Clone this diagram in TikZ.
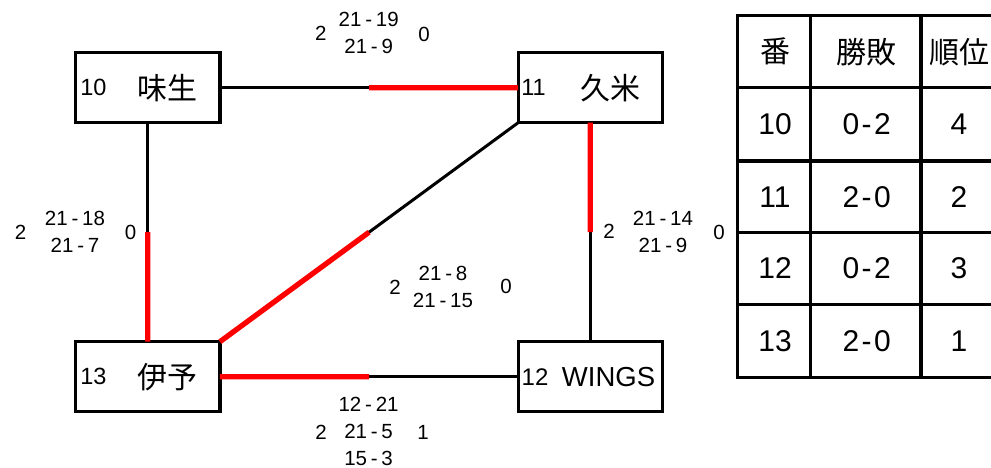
\documentclass[tikz,border=0pt]{standalone}
\usepackage{fontspec}
\setmainfont{Liberation Sans}
\newfontfamily\cjk{Noto Sans CJK JP}
\usetikzlibrary{calc}
\newcommand\scr[2]{#1\kern3.8pt-\kern3.8pt#2}
\newcommand\tsc[2]{#1\kern2.5pt-\kern2.5pt#2}
\begin{document}
\begin{tikzpicture}[x=1pt,y=-1pt,
  team/.style={draw, line width=3.3pt, minimum width=144.3pt, minimum height=70pt, inner sep=0pt, outer sep=0pt},
  conn/.style={line width=3pt},
  win/.style={line width=5.3pt, red},
  num/.style={font=\fontsize{23.5}{23.5}\selectfont, inner sep=0pt},
  nm/.style={font=\fontsize{30}{30}\selectfont\cjk, inner sep=0pt},
  lbl/.style={font=\fontsize{20.5}{27}\selectfont, inner sep=0pt, align=center},
  tline/.style={line width=3.3pt, line cap=rect},
  tcell/.style={font=\fontsize{30}{30}\selectfont, inner sep=0pt},
  thead/.style={font=\fontsize{30}{30}\selectfont\cjk, inner sep=0pt}]
\useasboundingbox (0,0) rectangle (991,468);
\fill[white] (0,0) rectangle (991,468);
% teams
\node[team] (ajio) at (147.8,87.7) {};
\node[team] (kume) at (590.3,87.7) {};
\node[team] (iyo) at (147.8,376.7) {};
\node[team] (wings) at (590.3,376.7) {};
\node[num] (n10) at (93.5,87.7) {10};
\node[nm] (t10) at (167.5,87.7) {味生};
\node[num] (n11) at (533.5,87.7) {11};
\node[nm] (t11) at (610,87.7) {久米};
\node[num] (n13) at (93.5,376.7) {13};
\node[nm] (t13) at (167.5,376.7) {伊予};
\node[num, font=\fontsize{24}{24}\selectfont] (n12) at (535,376.7) {12};
\node[num, font=\fontsize{27.5}{27.5}\selectfont] (t12) at (608.5,376.7) {WINGS};
% connectors
\draw[conn] (ajio.east) -- (kume.west);
\draw[win] ($(ajio.east)!0.5!(kume.west)$) -- (kume.west);
\draw[conn] (ajio.south) -- (iyo.north);
\draw[win] ($(ajio.south)!0.5!(iyo.north)$) -- (iyo.north);
\draw[conn] (kume.south) -- (wings.north);
\draw[win] (kume.south) -- ($(kume.south)!0.5!(wings.north)$);
\draw[conn] (iyo.east) -- (wings.west);
\draw[win] (iyo.east) -- ($(iyo.east)!0.5!(wings.west)$);
\draw[conn] (iyo.north east) -- (kume.south west);
\draw[win] (iyo.north east) -- ($(iyo.north east)!0.5!(kume.south west)$);
% edge labels
\node[lbl] (e1a) at (320.7,33.7) {2};
\node[lbl] (e1s) at (368.7,33) {\scr{21}{19}\\\scr{21}{9}};
\node[lbl] (e1b) at (424,34) {0};
\node[lbl] (e2a) at (20.5,232) {2};
\node[lbl] (e2s) at (75,231.5) {\scr{21}{18}\\\scr{21}{7}};
\node[lbl] (e2b) at (130.5,232) {0};
\node[lbl] (e3a) at (609,231.5) {2};
\node[lbl] (e3s) at (663,231.8) {\scr{21}{14}\\\scr{21}{9}};
\node[lbl] (e3b) at (719,232) {0};
\node[lbl] (e4a) at (395,287.5) {2};
\node[lbl] (e4s) at (443,286.5) {\scr{21}{8}\\\scr{21}{15}};
\node[lbl] (e4b) at (506,286.7) {0};
\node[lbl] (e5a) at (321,432) {2};
\node[lbl] (e5s) at (368.6,431.3) {\scr{12}{21}\\\scr{21}{5}\\\scr{15}{3}};
\node[lbl] (e5b) at (423,432) {1};
% table
\foreach \yy in {15.7,87.7,161,232.3,304.3,377.3}
  \draw[tline] (737.7,\yy) -- (995,\yy);
\foreach \xx in {737.7,810.3,921}
  \draw[tline] (\xx,15.7) -- (\xx,377.3);
\node[thead] (h1) at (775,51.7) {番};
\node[thead] (h2) at (866.7,51.7) {勝敗};
\node[thead] (h3) at (959,51.7) {順位};
\foreach \r/\yy/\a/\b/\bb/\c in {1/124.3/10/0/2/4, 2/196.7/11/2/0/2, 3/268.3/12/0/2/3, 4/340.8/13/2/0/1}{
  \node[tcell] (r\r a) at (775,\yy) {\a};
  \node[tcell] (r\r b) at (866.7,\yy) {\tsc{\b}{\bb}};
  \node[tcell] (r\r c) at (959,\yy) {\c};
}
\end{tikzpicture}
\end{document}
